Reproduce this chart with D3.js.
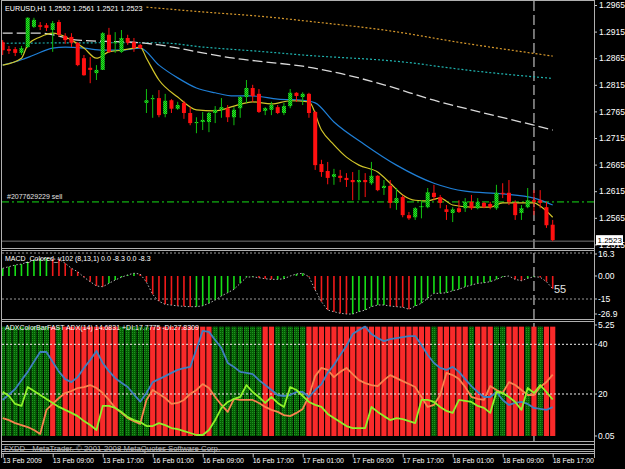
<!DOCTYPE html>
<html>
<head>
<meta charset="utf-8">
<script src="https://cdn.jsdelivr.net/npm/d3@7"></script>
<style>
  html, body { margin: 0; padding: 0; background: #000; }
  svg { display: block; }
  text { font-family: "Liberation Sans", Arial, sans-serif; }
</style>
</head>
<body>
<div id="chart"></div>
<script>
// ---- data (EURUSD H1, one value per bar) ----
const openP = [1.2895,1.2882,1.2882,1.2875,1.2886,1.2924,1.2927,1.2927,1.2918,1.2933,
  1.2907,1.2905,1.2894,1.2865,1.2847,1.2837,1.2843,1.2909,1.2894,1.2877,
  1.2903,1.2895,1.2890,1.2781,1.2788,1.2790,1.2760,1.2786,1.2770,1.2781,
  1.2762,1.2743,1.2745,1.2745,1.2762,1.2768,1.2771,1.2754,1.2771,1.2792,
  1.2809,1.2798,1.2766,1.2768,1.2773,1.2762,1.2775,1.2800,1.2792,1.2798,
  1.2764,1.2666,1.2653,1.2642,1.2644,1.2640,1.2636,1.2632,1.2636,1.2630,
  1.2644,1.2621,1.2625,1.2593,1.2604,1.2570,1.2566,1.2585,1.2585,1.2612,
  1.2604,1.2581,1.2574,1.2583,1.2583,1.2595,1.2583,1.2593,1.2591,1.2583,
  1.2612,1.2612,1.2593,1.2574,1.2585,1.2598,1.2598,1.2585,1.2552];
const highP = [1.2899,1.2888,1.2886,1.2888,1.2942,1.2941,1.2933,1.2931,1.2935,1.2937,
  1.2912,1.2912,1.2895,1.2871,1.2867,1.2852,1.2914,1.2922,1.2914,1.2918,
  1.2909,1.2903,1.2892,1.2807,1.2796,1.2805,1.2798,1.2788,1.2783,1.2785,
  1.2773,1.2754,1.2764,1.2764,1.2775,1.2790,1.2777,1.2773,1.2794,1.2824,
  1.2815,1.2807,1.2773,1.2783,1.2777,1.2781,1.2807,1.2801,1.2801,1.2800,
  1.2766,1.2674,1.2670,1.2657,1.2655,1.2649,1.2651,1.2655,1.2649,1.2670,
  1.2645,1.2636,1.2636,1.2621,1.2608,1.2576,1.2585,1.2598,1.2621,1.2627,
  1.2608,1.2589,1.2585,1.2598,1.2602,1.2608,1.2602,1.2595,1.2595,1.2627,
  1.2630,1.2636,1.2598,1.2589,1.2621,1.2617,1.2617,1.2595,1.2561];
const lowP = [1.2871,1.2873,1.2869,1.2871,1.2884,1.2922,1.2918,1.2916,1.2877,1.2905,
  1.2892,1.2886,1.2850,1.2832,1.2818,1.2824,1.2843,1.2875,1.2875,1.2875,
  1.2890,1.2877,1.2882,1.2762,1.2753,1.2754,1.2754,1.2762,1.2768,1.2751,
  1.2739,1.2724,1.2730,1.2726,1.2743,1.2753,1.2745,1.2739,1.2753,1.2781,
  1.2783,1.2762,1.2758,1.2758,1.2760,1.2758,1.2771,1.2783,1.2777,1.2753,
  1.2655,1.2642,1.2628,1.2627,1.2632,1.2623,1.2598,1.2598,1.2604,1.2627,
  1.2615,1.2608,1.2583,1.2580,1.2566,1.2561,1.2561,1.2564,1.2583,1.2598,
  1.2583,1.2561,1.2557,1.2574,1.2576,1.2580,1.2581,1.2583,1.2581,1.2580,
  1.2602,1.2589,1.2561,1.2561,1.2583,1.2570,1.2583,1.2546,1.2521];
const closeP = [1.2880,1.2879,1.2875,1.2884,1.2941,1.2937,1.2924,1.2922,1.2931,1.2909,
  1.2899,1.2894,1.2852,1.2833,1.2843,1.2843,1.2912,1.2877,1.2895,1.2903,
  1.2894,1.2884,1.2884,1.2786,1.2790,1.2758,1.2785,1.2770,1.2777,1.2762,
  1.2743,1.2745,1.2749,1.2762,1.2768,1.2773,1.2754,1.2768,1.2792,1.2809,
  1.2794,1.2764,1.2771,1.2777,1.2762,1.2775,1.2800,1.2794,1.2798,1.2762,
  1.2664,1.2651,1.2640,1.2647,1.2640,1.2636,1.2632,1.2636,1.2632,1.2644,
  1.2617,1.2625,1.2593,1.2602,1.2570,1.2564,1.2583,1.2587,1.2613,1.2604,
  1.2593,1.2576,1.2581,1.2576,1.2595,1.2583,1.2595,1.2585,1.2585,1.2612,
  1.2610,1.2595,1.2570,1.2583,1.2598,1.2595,1.2593,1.2551,1.2523];

// moving averages, [bar, price] read at points along each line
const maYellow = [[0,1.2852],[3,1.2865],[4,1.2890],[6,1.2905],[8,1.2912],[9,1.2910],[11,1.2899],[13,1.2884],
  [15,1.2865],[17,1.2877],[19,1.2880],[21,1.2884],[22,1.2886],[23,1.2865],[25,1.2824],[28,1.2792],
  [31,1.2768],[34,1.2766],[37,1.2775],[40,1.2783],[43,1.2779],[46,1.2785],[49,1.2783],[51,1.2730],
  [53,1.2702],[55,1.2679],[57,1.2664],[60,1.2651],[62,1.2630],[64,1.2608],[66,1.2598],[68,1.2597],
  [70,1.2602],[72,1.2589],[75,1.2585],[78,1.2585],[80,1.2593],[82,1.2593],[85,1.2593],[86,1.2587],[88,1.2566]];
const maBlue = [[0,1.2852],[3,1.2862],[5,1.2871],[8,1.2884],[10,1.2886],[13,1.2884],[16,1.2880],[19,1.2880],
  [22,1.2884],[25,1.2852],[28,1.2828],[31,1.2809],[34,1.2800],[37,1.2794],[40,1.2794],[44,1.2788],
  [48,1.2786],[50,1.2781],[53,1.2745],[58,1.2702],[63,1.2664],[69,1.2630],[74,1.2615],[80,1.2610],
  [85,1.2602],[88,1.2589]];
const maWhite = [[0,1.2912],[6,1.2912],[12,1.2899],[22,1.2894],[25,1.2890],[32,1.2875],[37,1.2865],
  [42,1.2858],[48,1.2850],[53,1.2839],[61,1.2815],[69,1.2786],[77,1.2762],[85,1.2739],[88,1.2730]];
const maTeal = [[0,1.2893],[16,1.2894],[25,1.2894],[32,1.2886],[42,1.2877],[48,1.2871],[64,1.2858],
  [74,1.2843],[85,1.2830],[88,1.2827]];
const maOrange = [[23,1.2961],[32,1.2952],[42,1.2943],[50,1.2933],[61,1.2918],[74,1.2893],[85,1.2874],[88,1.2869]];

const orderPrice = 1.2595;
const orderLabel = "#2077629229 sell";
const markerBar = 85;

const macd = [5.0,6.1,7.2,7.8,9.1,10.4,11.1,11.5,11.1,10.9,
  8.3,5.0,2.8,-0.8,-3.7,-6.5,-7.0,-4.8,-2.6,-0.8,
  0.7,1.8,1.3,-4.0,-12.0,-16.5,-18.5,-19.0,-19.5,-19.8,
  -20.0,-20.0,-19.4,-17.8,-15.7,-13.0,-10.9,-8.7,-4.8,-0.8,
  -0.5,-1.1,-1.8,-2.2,-2.2,-1.8,0.0,1.3,1.8,-0.5,
  -9.1,-16.8,-22.2,-23.3,-24.3,-24.8,-24.8,-23.3,-22.2,-20.0,
  -18.9,-18.9,-19.6,-20.0,-20.4,-21.7,-19.6,-17.8,-14.5,-11.3,
  -11.3,-10.9,-9.6,-8.7,-7.0,-5.9,-4.8,-4.4,-3.7,-2.2,
  -0.5,0.0,-2.2,-3.1,-1.5,-0.5,-0.8,-3.7,-8.3];

const adxMain = [17.6,19.8,22.0,25.5,28.9,33.0,36.9,36.9,32.9,29.0,
  26.0,24.8,26.8,30.5,33.7,37.3,32.5,29.2,26.4,24.5,
  22.8,19.8,16.9,20.4,24.8,26.0,27.2,28.5,29.7,30.4,
  30.9,38.0,45.4,45.0,41.7,38.5,32.5,30.9,28.9,28.5,
  28.0,25.6,23.6,21.6,19.6,19.2,19.6,20.8,20.8,18.8,
  21.6,24.0,28.5,31.7,35.7,39.3,44.1,45.8,47.1,44.1,
  42.5,41.3,42.1,42.5,42.9,43.3,43.3,39.7,35.7,32.5,
  30.5,29.7,30.9,28.9,26.0,23.2,20.8,18.8,18.8,20.8,
  17.6,15.6,16.4,16.8,16.0,14.4,14.0,13.6,14.7];
const plusDi = [20.9,19.2,16.0,15.2,22.8,21.2,19.6,18.0,16.4,14.8,
  13.6,12.4,11.1,9.1,7.5,5.5,15.2,15.2,14.4,12.8,
  10.7,9.5,8.7,7.1,7.1,8.3,7.5,6.3,5.9,5.1,
  4.3,3.5,3.5,5.5,9.5,14.4,16.8,18.0,18.8,23.6,
  20.8,18.8,16.4,18.8,16.4,14.8,22.8,21.6,19.2,16.8,
  15.6,14.8,12.0,10.3,8.7,7.1,6.3,6.3,6.3,14.8,
  12.8,11.1,9.5,10.3,9.9,9.1,8.3,17.6,17.6,16.8,
  14.8,13.2,12.4,17.6,17.2,16.8,15.2,14.4,12.4,20.8,
  20.4,18.8,16.8,13.6,22.4,20.4,23.6,20.8,17.8];
const minusDi = [10.3,9.5,8.3,7.5,6.7,5.5,3.9,13.6,16.0,18.4,
  20.4,21.2,22.4,22.8,23.6,22.4,20.4,17.6,14.4,12.4,
  10.3,9.1,8.0,17.6,21.6,20.0,18.4,16.0,16.4,17.6,
  20.0,21.6,24.0,22.4,18.8,15.6,12.8,18.0,17.6,17.6,
  17.6,16.4,14.8,13.6,12.8,11.5,11.1,12.4,14.0,19.2,
  27.2,30.5,29.7,26.8,28.9,30.5,28.0,25.6,24.4,23.6,
  23.2,25.6,27.6,26.4,25.2,24.0,22.8,18.8,14.8,15.6,
  19.6,28.5,27.6,26.0,22.8,18.8,18.0,17.6,23.2,21.6,
  20.4,24.8,23.6,21.6,19.6,19.6,22.8,24.8,27.8];
const adxBarColor = ["g","g","g","g","g","g","g","g","r","g",
  "r","r","r","r","r","r","r","r","r","g",
  "g","g","g","g","r","r","r","r","r","r",
  "r","r","r","r","g","g","g","g","g","g",
  "g","g","r","r","g","g","g","g","g","r",
  "r","r","r","r","r","r","r","r","r","r",
  "r","r","r","r","r","r","r","r","r","g",
  "r","r","r","r","r","g","r","r","r","g",
  "g","r","r","r","g","r","g","r","r"];

const timeTickBars = [0,8,16,24,32,40,48,56,64,72,80,88];
const timeLabels = ["13 Feb 2009","13 Feb 09:00","13 Feb 17:00","16 Feb 01:00","16 Feb 09:00","16 Feb 17:00",
  "17 Feb 01:00","17 Feb 09:00","17 Feb 17:00","18 Feb 01:00","18 Feb 09:00","18 Feb 17:00"];
const priceTicks = [1.2965,1.2915,1.2865,1.2815,1.2765,1.2715,1.2665,1.2615,1.2565,1.2515];
const macdTicks = [16.3, 0, -15, -26.9];
const macdTickLabels = ["16.3","0.00","-15","-26.9"];
const macdLevels = [15, -15];
const adxTicks = [55.25, 40, 20, 0.05];
const adxTickLabels = ["5.25","40","20","0.05"];
const adxLevels = [40, 20];

// ---- layout ----
const width = 625, height = 469;
const left = 2, right = 594;
const panes = { main: [1, 248], macd: [251, 319], adx: [322, 441] };

const x = d3.scaleLinear().domain([0, 88]).range([2.7, 552.7]);
const yPrice = d3.scaleLinear().domain([1.2515, 1.2965]).range([244.4, 5]);
const yMacd = d3.scaleLinear().domain([-15, 0]).range([299, 276]);
const yAdx = d3.scaleLinear().domain([20, 40]).range([394, 344.3]);

const svg = d3.select("#chart").append("svg")
  .attr("width", width).attr("height", height);
svg.append("rect").attr("width", width).attr("height", height).attr("fill", "#000");

const defs = svg.append("defs");
Object.entries(panes).forEach(([k, [y0, y1]]) => {
  defs.append("clipPath").attr("id", "clip-" + k)
    .append("rect").attr("x", left).attr("y", y0).attr("width", right - left).attr("height", y1 - y0);
  defs.append("clipPath").attr("id", "axis-" + k)
    .append("rect").attr("x", right).attr("y", y0 - 1).attr("width", width - right).attr("height", y1 - y0 + 1);
});

// checkered fills (bull candles, green ADX columns)
const bullPat = defs.append("pattern").attr("id", "bullFill")
  .attr("patternUnits", "userSpaceOnUse").attr("width", 2).attr("height", 2);
bullPat.append("rect").attr("width", 2).attr("height", 2).attr("fill", "#22f022");
bullPat.append("rect").attr("width", 1).attr("height", 1).attr("fill", "#0a900a");
bullPat.append("rect").attr("x", 1).attr("y", 1).attr("width", 1).attr("height", 1).attr("fill", "#0a900a");
const greenPat = defs.append("pattern").attr("id", "adxGreen")
  .attr("patternUnits", "userSpaceOnUse").attr("width", 2).attr("height", 2);
greenPat.append("rect").attr("width", 2).attr("height", 2).attr("fill", "#056005");
greenPat.append("rect").attr("width", 1).attr("height", 1).attr("fill", "#1f961f");

// vertical dashed marker through all panes
svg.append("line")
  .attr("x1", x(markerBar)).attr("x2", x(markerBar)).attr("y1", 1).attr("y2", 441)
  .attr("stroke", "#8e8e8e").attr("stroke-width", 1.6).attr("stroke-dasharray", "10,4");

// ---------- main pane ----------
const main = svg.append("g").attr("clip-path", "url(#clip-main)");

main.append("line")
  .attr("x1", left).attr("x2", right)
  .attr("y1", yPrice(closeP[closeP.length - 1]) + 1).attr("y2", yPrice(closeP[closeP.length - 1]) + 1)
  .attr("stroke", "#767676").attr("stroke-width", 1);

main.append("line")
  .attr("x1", left).attr("x2", right)
  .attr("y1", yPrice(orderPrice)).attr("y2", yPrice(orderPrice))
  .attr("stroke", "#0c7f0c").attr("stroke-width", 1.6).attr("stroke-dasharray", "7,3,2,3");

const maLine = d3.line().x(d => x(d[0])).y(d => yPrice(d[1])).curve(d3.curveMonotoneX);
[[maOrange, "#d99a2c", 1.2, "2,2"], [maTeal, "#1fb4b0", 1.2, "2,2"], [maWhite, "#dadada", 1.3, "10,4"],
 [maBlue, "#1f7fd6", 1.2, null], [maYellow, "#d2c62a", 1.2, null]].forEach(([d, c, w, dash]) => {
  main.append("path").datum(d).attr("d", maLine)
    .attr("fill", "none").attr("stroke", c).attr("stroke-width", w)
    .attr("stroke-dasharray", dash);
});

const candles = main.append("g");
openP.forEach((o, i) => {
  const c = closeP[i], bull = c >= o;
  const cx = x(i);
  candles.append("line")
    .attr("x1", cx).attr("x2", cx)
    .attr("y1", yPrice(highP[i])).attr("y2", yPrice(lowP[i]))
    .attr("stroke", bull ? "#10c010" : "#ff1010").attr("stroke-width", 1);
  const top = yPrice(Math.max(o, c)), bot = yPrice(Math.min(o, c));
  candles.append("rect")
    .attr("x", cx - 2).attr("width", 4)
    .attr("y", top).attr("height", Math.max(1, bot - top))
    .attr("fill", bull ? "url(#bullFill)" : "#ff1010");
});

main.append("text").attr("x", 5).attr("y", 11)
  .attr("fill", "#fff").attr("font-size", "7.2px")
  .text(`EURUSD,H1  ${openP[88].toFixed(4)} ${highP[88].toFixed(4)} ${lowP[88].toFixed(4)} ${closeP[88].toFixed(4)}`);
main.append("text").attr("x", 7).attr("y", yPrice(orderPrice) - 3)
  .attr("fill", "#e0e0e0").attr("font-size", "7px").text(orderLabel);

// price axis
const pAxisG = svg.append("g").attr("clip-path", "url(#axis-main)")
  .append("g").attr("transform", `translate(${right},0)`)
  .call(d3.axisRight(yPrice).tickValues(priceTicks).tickFormat(d3.format(".4f")).tickSize(3).tickPadding(2));
pAxisG.select(".domain").remove();
pAxisG.selectAll(".tick line").attr("stroke", "#c8c8c8");
pAxisG.selectAll(".tick text").attr("fill", "#fff").attr("font-size", "8.5px")
  .attr("font-family", "Liberation Sans, Arial, sans-serif");

const last = closeP[closeP.length - 1];
svg.append("rect").attr("x", 596).attr("y", yPrice(last) - 5).attr("width", 27).attr("height", 10)
  .attr("fill", "#fff");
svg.append("text").attr("x", 597.5).attr("y", yPrice(last) + 3)
  .attr("fill", "#000").attr("font-size", "8px").text(last.toFixed(4));

// ---------- MACD pane ----------
const mp = svg.append("g").attr("clip-path", "url(#clip-macd)");
macdLevels.forEach(l => {
  mp.append("line").attr("x1", left).attr("x2", right).attr("y1", yMacd(l)).attr("y2", yMacd(l))
    .attr("stroke", "#9a9a9a").attr("stroke-width", 1).attr("stroke-dasharray", "2,2");
});
mp.selectAll("line.hist").data(macd).join("line").attr("class", "hist")
  .attr("x1", (d, i) => x(i)).attr("x2", (d, i) => x(i))
  .attr("y1", yMacd(0)).attr("y2", d => yMacd(d))
  .attr("stroke", (d, i) => (i === 0 || d >= macd[i - 1]) ? "#16e016" : "#f01a1a")
  .attr("stroke-width", 1.6);
mp.append("path").datum(macd)
  .attr("d", d3.line().x((d, i) => x(i)).y(d => yMacd(d)))
  .attr("fill", "none").attr("stroke", "#b4b4b4").attr("stroke-width", 1).attr("stroke-dasharray", "1.5,2");
mp.append("text").attr("x", 5).attr("y", 261).attr("fill", "#fff").attr("font-size", "7px")
  .text(`MACD_Colored_v102 (8,13,1) 0.0 ${macd[88].toFixed(1)} 0.0 ${macd[88].toFixed(1)}`);
mp.append("text").attr("x", 554).attr("y", 293).attr("fill", "#e6e6e6").attr("font-size", "11px").text("55");

function sideAxis(vals, labels, scale, [y0, y1]) {
  const g = svg.append("g");
  vals.forEach((v, k) => {
    const yy = Math.min(y1 - 5, Math.max(y0 + 3, scale(v)));
    g.append("line").attr("x1", right).attr("x2", right + 3).attr("y1", yy).attr("y2", yy).attr("stroke", "#c8c8c8");
    g.append("text").attr("x", right + 4).attr("y", yy).attr("dy", "0.32em")
      .attr("fill", "#fff").attr("font-size", "8.5px").text(labels[k]);
  });
}
sideAxis(macdTicks, macdTickLabels, yMacd, panes.macd);

// ---------- ADX pane ----------
const ap = svg.append("g").attr("clip-path", "url(#clip-adx)");
const colTop = yAdx(47.1), colBot = yAdx(3.1);
ap.selectAll("rect.col").data(adxBarColor).join("rect").attr("class", "col")
  .attr("x", (d, i) => x(i) - 2.6).attr("width", 5.2)
  .attr("y", colTop).attr("height", colBot - colTop)
  .attr("fill", d => d === "g" ? "url(#adxGreen)" : "#f92a2a");
adxLevels.forEach(l => {
  ap.append("line").attr("x1", left).attr("x2", right).attr("y1", yAdx(l)).attr("y2", yAdx(l))
    .attr("stroke", "#f0f0f0").attr("stroke-width", 1).attr("stroke-dasharray", "2,2");
});
const adxLine = d3.line().x((d, i) => x(i)).y(d => yAdx(d));
[[minusDi, "#f7834e"], [adxMain, "#3f7fbf"], [plusDi, "#8ef22a"]].forEach(([d, c]) => {
  ap.append("path").datum(d).attr("d", adxLine)
    .attr("fill", "none").attr("stroke", c).attr("stroke-width", 1.8).attr("stroke-linejoin", "round");
});
ap.append("text").attr("x", 5).attr("y", 330).attr("fill", "#fff").attr("font-size", "7px")
  .text(`ADXColorBarFAST  ADX(14) 14.6831 +DI:17.7775 -DI:27.8309`);
sideAxis(adxTicks, adxTickLabels, yAdx, panes.adx);

// ---------- frames ----------
const frame = svg.append("g").attr("stroke", "#b0b0b0").attr("stroke-width", 1).attr("fill", "none");
[0.5, 248.5, 250.5, 319.5, 321.5, 441.5, 444.5, 449.5, 451.5, 453.5].forEach(yy => {
  frame.append("line").attr("x1", 1.5).attr("x2", right).attr("y1", yy).attr("y2", yy);
});
frame.append("line").attr("x1", 1.5).attr("x2", 1.5).attr("y1", 0).attr("y2", 458);
frame.append("line").attr("x1", right + 0.5).attr("x2", right + 0.5).attr("y1", 0).attr("y2", 458);

svg.append("text").attr("x", 4).attr("y", 450.5).attr("fill", "#b8b8b8").attr("font-size", "7.8px")
  .text("FXDD - MetaTrader, © 2001-2008 MetaQuotes Software Corp.");

// time axis
const tAxis = svg.append("g").attr("transform", "translate(0,453.5)")
  .call(d3.axisBottom(x).tickValues(timeTickBars).tickFormat((d, k) => timeLabels[k]).tickSize(4).tickPadding(1));
tAxis.select(".domain").remove();
tAxis.selectAll(".tick line").attr("stroke", "#c8c8c8");
tAxis.selectAll(".tick text").attr("fill", "#fff").attr("font-size", "7px")
  .attr("text-anchor", "start").attr("dx", "-0.5")
  .attr("font-family", "Liberation Sans, Arial, sans-serif");
</script>
</body>
</html>
